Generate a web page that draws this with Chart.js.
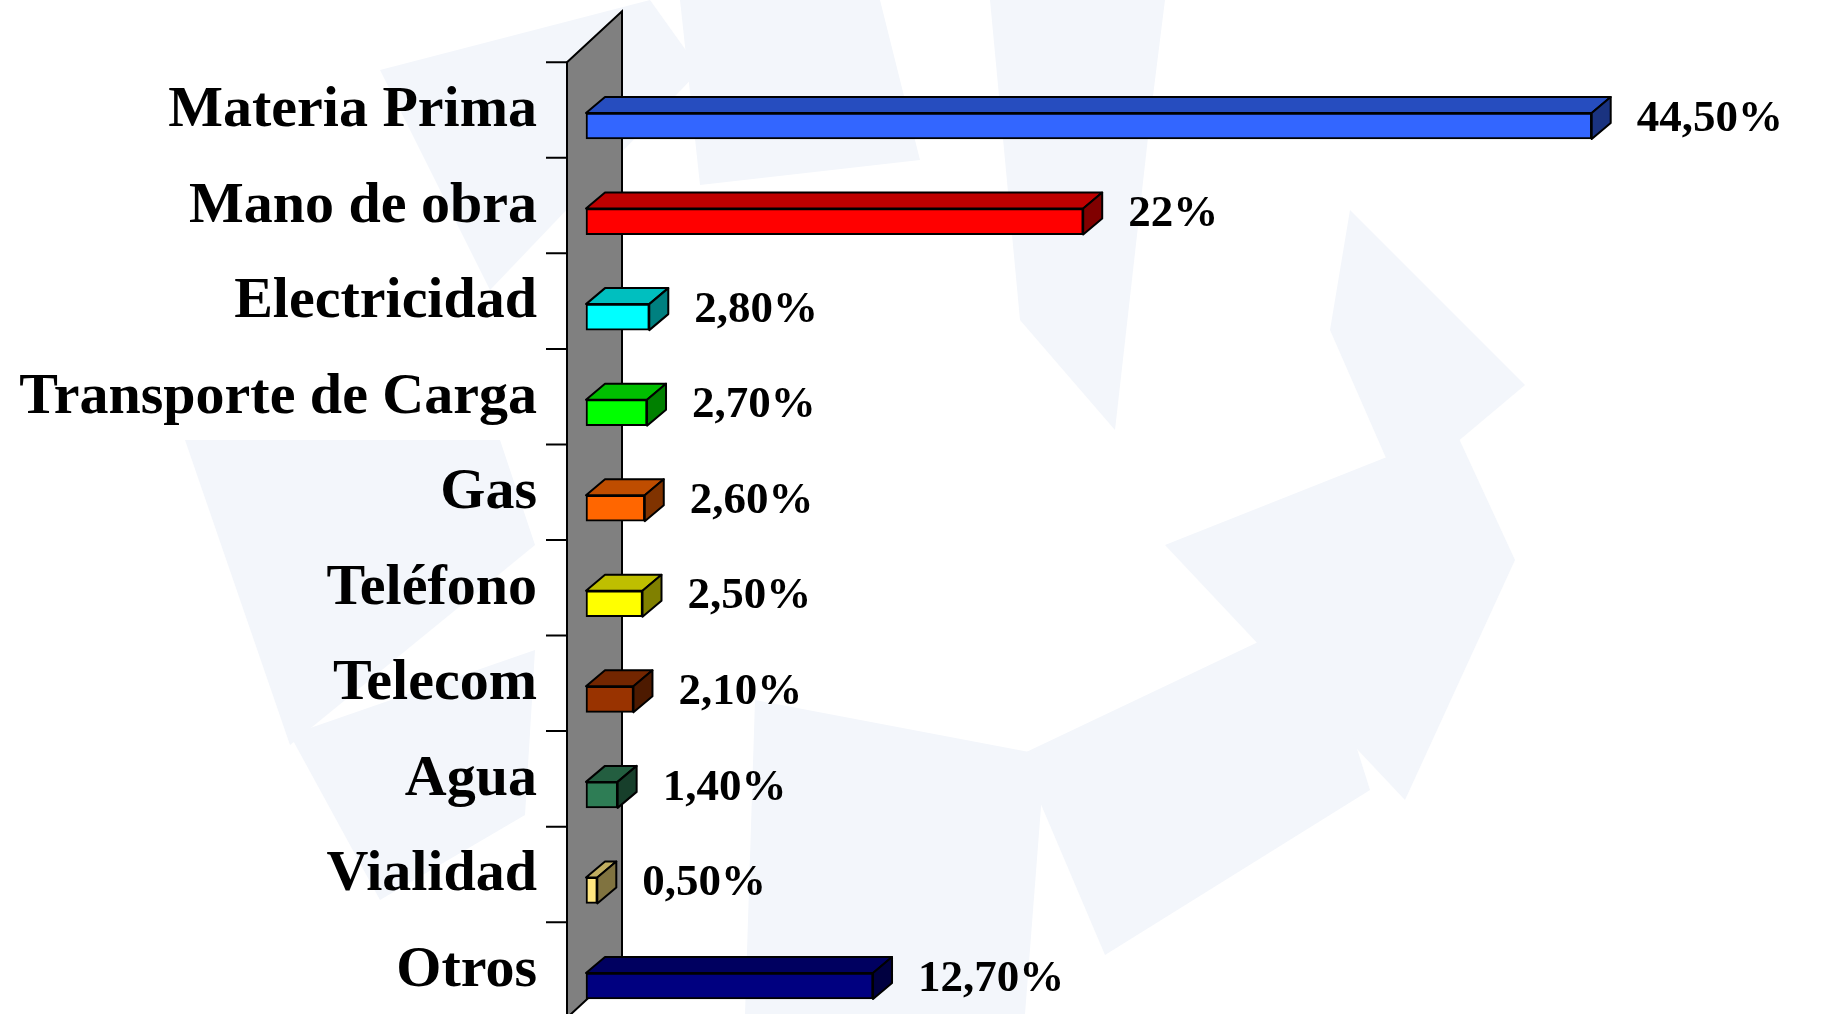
<!DOCTYPE html>
<html lang="es">
<head>
  <meta charset="UTF-8">
  <script src="https://cdn.jsdelivr.net/npm/chart.js"></script>
  <title>Estructura de costos</title>
  <style>
    html, body { margin: 0; padding: 0; background: #ffffff; }
    .caja { width: 1823px; height: 1014px; }
  </style>
</head>
<body>
  <div class="caja">
    <canvas id="grafico"></canvas>
  </div>

<script>
  // datos del grafico
  const categorias = ['Materia Prima', 'Mano de obra', 'Electricidad', 'Transporte de Carga', 'Gas',
    'Teléfono', 'Telecom', 'Agua', 'Vialidad', 'Otros'];
  const porcentajes = [44.5, 22, 2.8, 2.7, 2.6, 2.5, 2.1, 1.4, 0.5, 12.7];
  const etiquetas = ['44,50%', '22%', '2,80%', '2,70%', '2,60%', '2,50%', '2,10%', '1,40%', '0,50%', '12,70%'];
  const colores = ['#3366FF', '#FF0000', '#00FFFF', '#00FF00', '#FF6600',
    '#FFFF00', '#993300', '#2E7D55', '#FFE680', '#000080'];

  // profundidad 3D
  const barraDx = 19, barraDy = 16;
  const paredDx = 55, paredDy = 51;

  function sombra(hex, f) {
    const n = parseInt(hex.slice(1), 16);
    const r = Math.round(((n >> 16) & 255) * f);
    const g = Math.round(((n >> 8) & 255) * f);
    const b = Math.round((n & 255) * f);
    return `rgb(${r}, ${g}, ${b})`;
  }

  // marca de agua del fondo
  const fondo = {
    id: 'fondo',
    beforeDraw(chart) {
      const ctx = chart.ctx;
      ctx.save();
      ctx.fillStyle = '#ffffff';
      ctx.fillRect(0, 0, chart.width, chart.height);
      ctx.fillStyle = '#F3F6FB';
      const formas = [
        [[380, 70], [650, 0], [700, 70], [490, 290]],
        [[680, 0], [880, 0], [920, 160], [700, 185]],
        [[990, 0], [1165, 0], [1150, 120], [1115, 430], [1020, 320]],
        [[1350, 210], [1525, 385], [1400, 490], [1330, 330]],
        [[1165, 545], [1455, 430], [1515, 560], [1405, 800]],
        [[1020, 755], [1315, 615], [1370, 790], [1105, 955]],
        [[755, 700], [1045, 755], [1025, 1014], [745, 1014]],
        [[185, 440], [500, 440], [535, 545], [290, 745]],
        [[290, 735], [535, 650], [525, 815], [380, 900]]
      ];
      formas.forEach(function (f) {
        ctx.beginPath();
        ctx.moveTo(f[0][0], f[0][1]);
        for (let i = 1; i < f.length; i++) ctx.lineTo(f[i][0], f[i][1]);
        ctx.closePath();
        ctx.fill();
      });
      ctx.restore();
    }
  };

  // pared gris con marcas del eje
  const pared = {
    id: 'pared',
    beforeDatasetsDraw(chart) {
      const ctx = chart.ctx;
      const y = chart.scales.y;
      const paso = y.getPixelForValue(1) - y.getPixelForValue(0);
      const xf = chart.chartArea.left - barraDx;
      const arriba = y.getPixelForValue(0) - barraDy - paso / 2;
      const abajo = y.getPixelForValue(categorias.length - 1) - barraDy + paso / 2;
      ctx.save();
      ctx.fillStyle = '#808080';
      ctx.strokeStyle = '#000000';
      ctx.lineWidth = 2;
      ctx.beginPath();
      ctx.moveTo(xf, arriba);
      ctx.lineTo(xf + paredDx, arriba - paredDy);
      ctx.lineTo(xf + paredDx, abajo - paredDy);
      ctx.lineTo(xf, abajo);
      ctx.closePath();
      ctx.fill();
      ctx.stroke();
      ctx.beginPath();
      for (let i = 0; i <= categorias.length; i++) {
        const yy = arriba + i * paso;
        ctx.moveTo(xf - 21, yy);
        ctx.lineTo(xf, yy);
      }
      ctx.stroke();
      ctx.restore();
    }
  };

  // caras superior y lateral de cada barra, y los valores
  const caras = {
    id: 'caras',
    afterDatasetsDraw(chart) {
      const ctx = chart.ctx;
      const meta = chart.getDatasetMeta(0);
      ctx.save();
      ctx.strokeStyle = '#000000';
      ctx.lineWidth = 2;
      ctx.lineJoin = 'round';
      meta.data.forEach(function (barra, i) {
        const p = barra.getProps(['x', 'y', 'base', 'height'], true);
        const x0 = p.base, x1 = p.x;
        const t = p.y - p.height / 2, b = p.y + p.height / 2;
        ctx.fillStyle = sombra(colores[i], 0.75);
        ctx.beginPath();
        ctx.moveTo(x0, t);
        ctx.lineTo(x0 + barraDx, t - barraDy);
        ctx.lineTo(x1 + barraDx, t - barraDy);
        ctx.lineTo(x1, t);
        ctx.closePath();
        ctx.fill();
        ctx.stroke();
        ctx.fillStyle = sombra(colores[i], 0.5);
        ctx.beginPath();
        ctx.moveTo(x1, t);
        ctx.lineTo(x1 + barraDx, t - barraDy);
        ctx.lineTo(x1 + barraDx, b - barraDy);
        ctx.lineTo(x1, b);
        ctx.closePath();
        ctx.fill();
        ctx.stroke();

        ctx.fillStyle = '#000000';
        ctx.font = 'bold 45px "Liberation Serif", "Times New Roman", serif';
        ctx.textAlign = 'left';
        ctx.textBaseline = 'middle';
        ctx.fillText(etiquetas[i], x1 + barraDx + 26, p.y - 7);
      });
      ctx.restore();
    }
  };

  const dados = {
    labels: categorias,
    datasets: [{
      data: porcentajes,
      backgroundColor: colores,
      borderColor: '#000000',
      borderWidth: 2,
      borderSkipped: false,
      barThickness: 26,
      clip: false
    }]
  };

  const config = {
    type: 'bar',
    data: dados,
    options: {
      indexAxis: 'y',
      responsive: false,
      animation: false,
      layout: { padding: { top: 126, bottom: 28, left: 0, right: 107 } },
      plugins: { legend: { display: false }, tooltip: { enabled: false } },
      scales: {
        x: { display: false, min: 0, max: 50 },
        y: {
          offset: false,
          grid: { display: false, drawTicks: false },
          border: { display: false },
          afterFit(scale) {
            scale.width = 586;
            scale.paddingTop = 0;
            scale.paddingBottom = 0;
          },
          ticks: {
            autoSkip: false,
            padding: 49,
            labelOffset: -15,
            color: '#000000',
            font: { family: '"Liberation Serif", "Times New Roman", serif', size: 58, weight: 'bold' }
          }
        }
      }
    },
    plugins: [fondo, pared, caras]
  };

  const canvas = document.getElementById('grafico');
  canvas.width = 1823;
  canvas.height = 1014;
  let myChart = new Chart(canvas, config);
</script>
</body>
</html>
